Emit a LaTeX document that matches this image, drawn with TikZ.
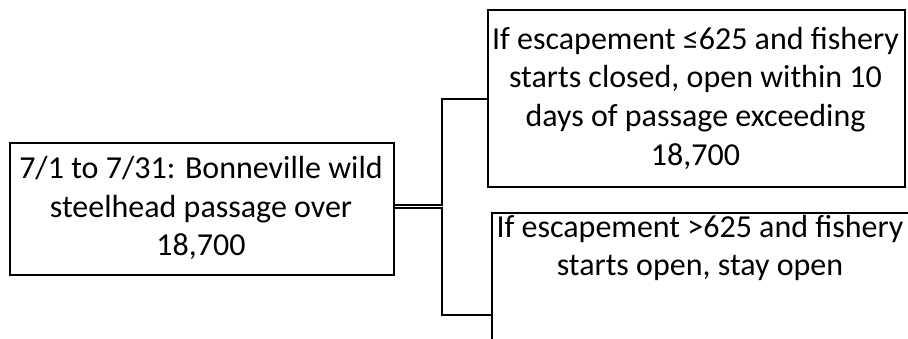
\documentclass[tikz,border=0pt]{standalone}
\usepackage{fontspec}
\setmainfont{Carlito}
\begin{document}
\begin{tikzpicture}[x=0.75pt,y=-0.75pt,
  box/.style={draw=black,line width=1.5pt,rectangle,inner sep=0pt,anchor=north west},
  txt/.style={align=center,font=\fontsize{24}{29}\selectfont,inner sep=0pt},
  conn/.style={draw=black,line width=1.5pt}]
\useasboundingbox (0,0) rectangle (908,339);
\clip (0,0) rectangle (908,339);
\node[box,minimum width=384pt*0.75,minimum height=132pt*0.75] (a) at (9,142) {};
\node[txt] (at) at (201,208) {7/1 to 7/31: Bonneville wild\\steelhead passage over\\18,700};
\node[box,minimum width=417pt*0.75,minimum height=177pt*0.75] (b) at (487,9) {};
\node[txt] (bt) at (695.5,98) {If escapement ≤625 and fishery\\starts closed, open within 10\\days of passage exceeding\\18,700};
\node[box,minimum width=420pt*0.75,minimum height=204pt*0.75] (c) at (491,212) {};
\node[txt] (ct) at (700,248) {If escapement >625 and fishery\\starts open, stay open};
\coordinate (j1) at (442,204.5);
\coordinate (j2) at (442,208);
\draw[conn] (a.east |- j1) -- (j1) |- (b.west);
\draw[conn] (a.east |- j2) -- (j2) |- (c.west);
\end{tikzpicture}
\end{document}
